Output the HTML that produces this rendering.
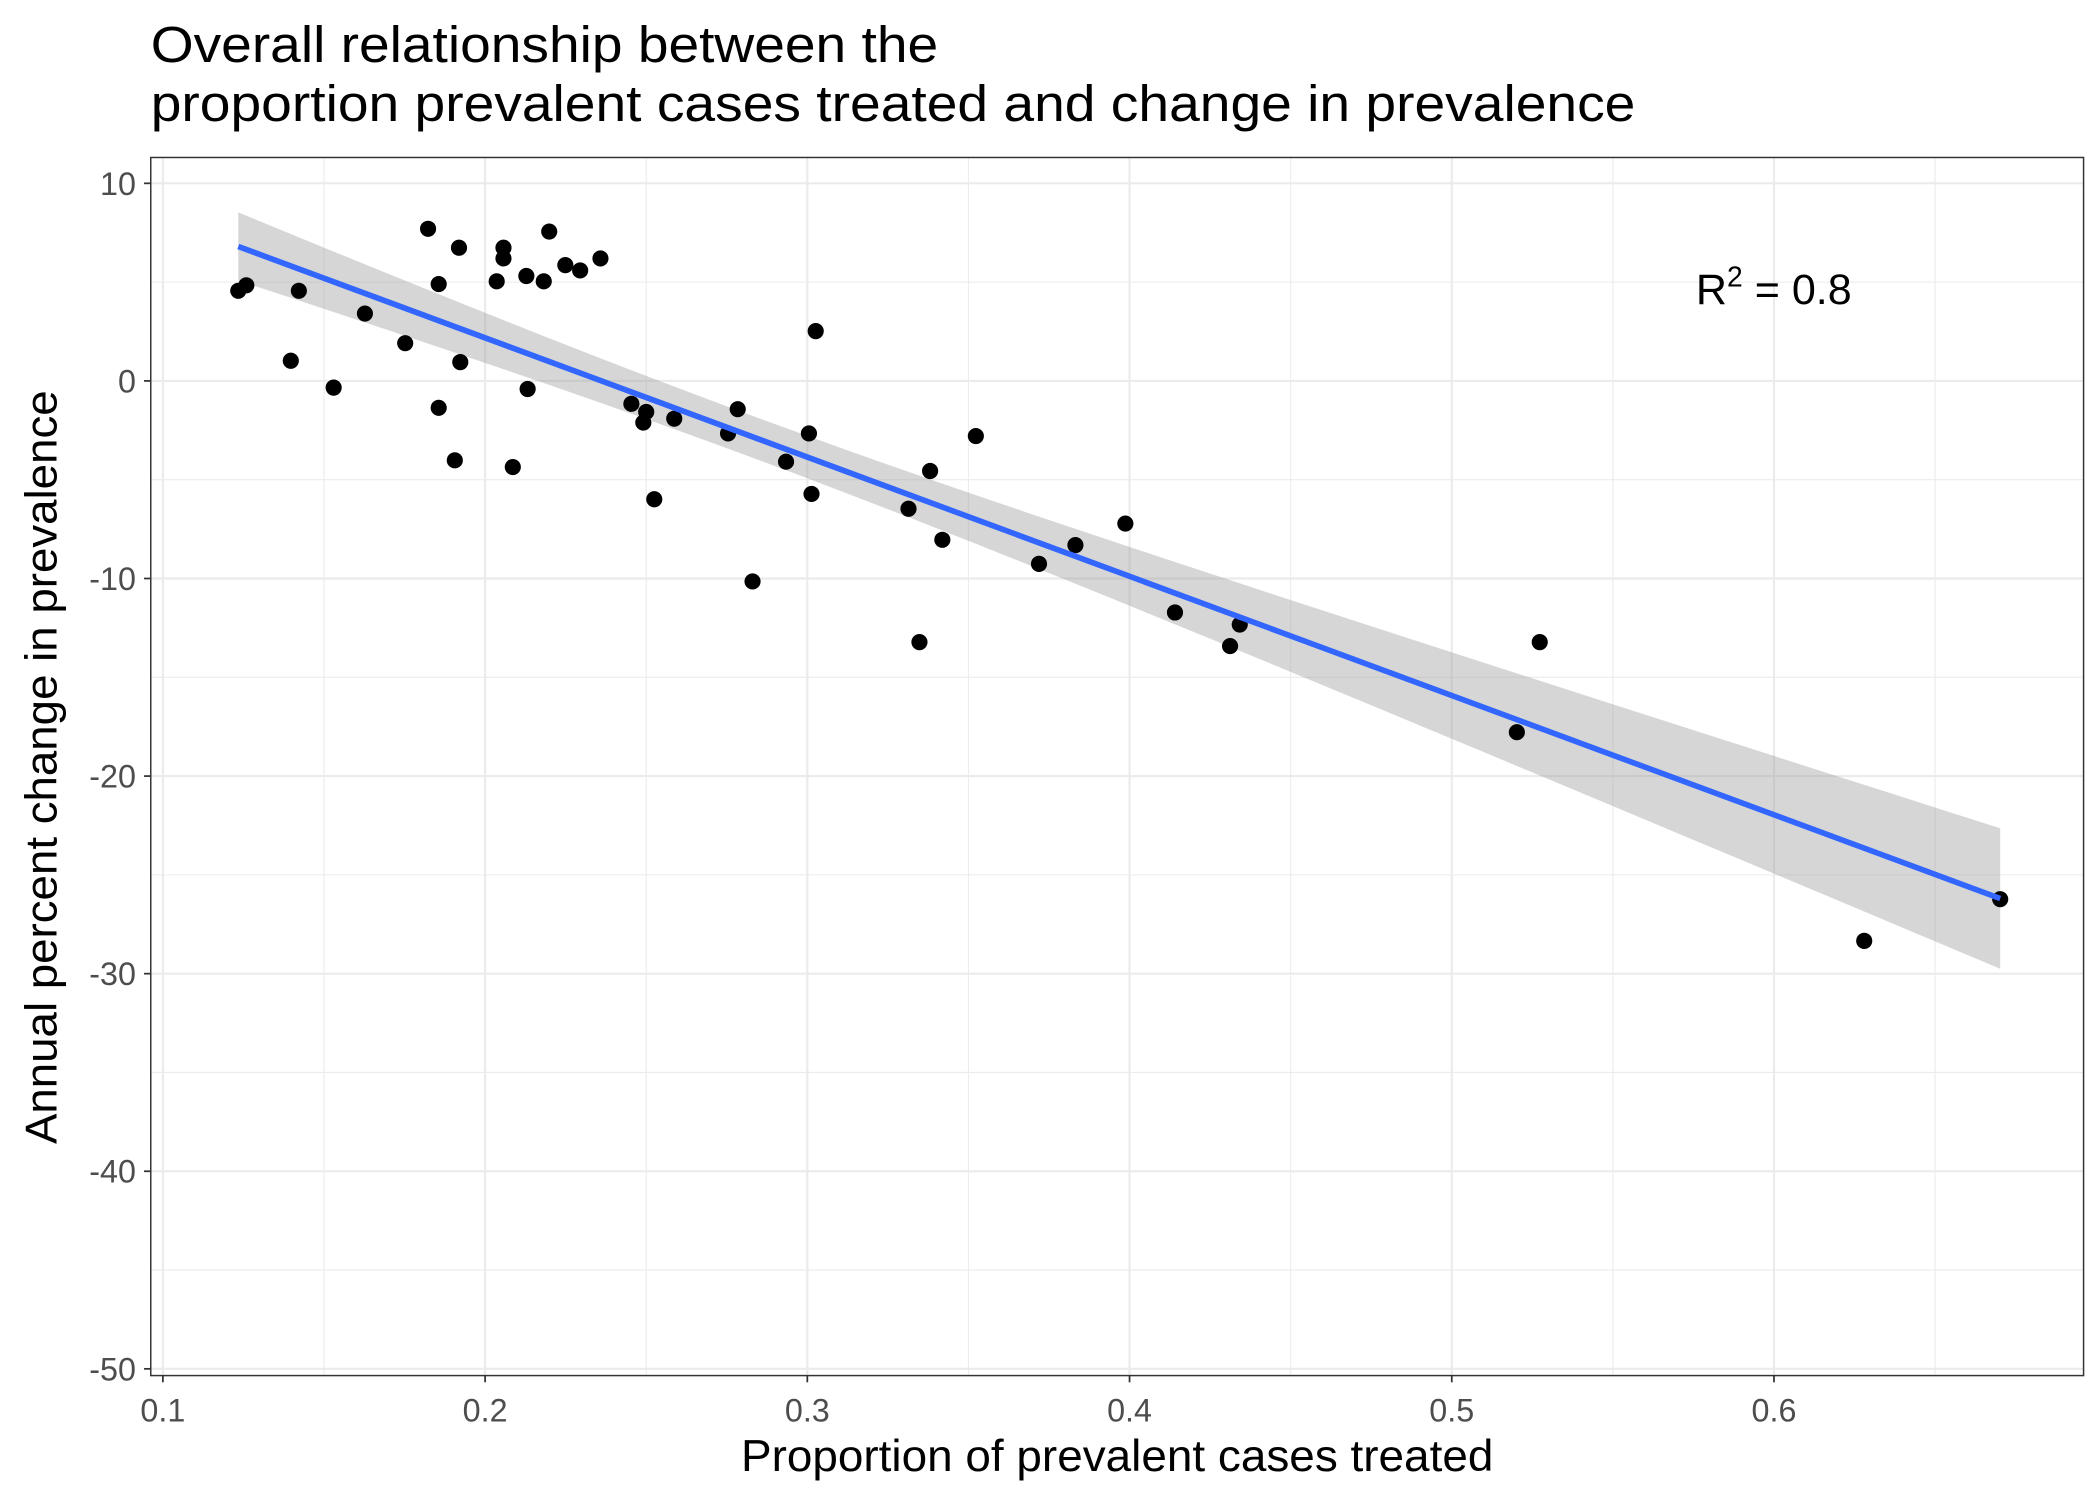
<!DOCTYPE html>
<html><head><meta charset="utf-8"><style>body{margin:0;background:#fff}svg{display:block}text{font-family:"Liberation Sans",sans-serif}</style></head>
<body>
<svg id="chart" width="2100" height="1499" viewBox="0 0 1560.2 1113.7" xmlns="http://www.w3.org/2000/svg">
<rect width="1560.2" height="1113.7" fill="#fff"/>
<text x="112" y="46" font-size="38" textLength="585" lengthAdjust="spacingAndGlyphs">Overall relationship between the</text>
<text x="112" y="90" font-size="38" textLength="1103" lengthAdjust="spacingAndGlyphs">proportion prevalent cases treated and change in prevalence</text>
<g id="grid"></g>
<g id="band"></g>
<g id="points"></g>
<g id="fit"></g>
<rect x="112" y="117" width="1436" height="905" fill="none" stroke="#333" stroke-width="1.1"/>
<g id="axes"></g>
<text x="1260" y="226" font-size="32">R<tspan dy="-13" font-size="21">2</tspan><tspan dy="13"> = 0.8</tspan></text>
<text x="830" y="1093" font-size="33" text-anchor="middle" textLength="559" lengthAdjust="spacingAndGlyphs">Proportion of prevalent cases treated</text>
<text transform="translate(42,570) rotate(-90)" font-size="33" text-anchor="middle" textLength="560" lengthAdjust="spacingAndGlyphs">Annual percent change in prevalence</text>
</svg>
<script>
const xVals=[0.1234,0.1259,0.1422,0.1397,0.1530,0.1627,0.1752,0.1823,0.1856,0.1856,0.1906,0.1919,0.1923,0.2036,0.2057,0.2057,0.2086,0.2128,0.2132,0.2182,0.2199,0.2249,0.2295,0.2358,0.2454,0.2491,0.2500,0.2525,0.2587,0.2754,0.2784,0.2830,0.2934,0.3005,0.3013,0.3026,0.3314,0.3348,0.3381,0.3419,0.3523,0.3719,0.3832,0.3987,0.4141,0.4312,0.4342,0.5202,0.5273,0.6280,0.6702];
const yVals=[4.56,4.84,4.56,1.02,-0.34,3.41,1.91,7.70,4.90,-1.36,-4.02,6.74,0.95,5.04,6.74,6.20,-4.36,5.31,-0.41,5.04,7.56,5.86,5.59,6.20,-1.16,-2.11,-1.57,-5.99,-1.91,-2.66,-1.43,-10.15,-4.09,-2.66,-5.72,2.52,-6.47,-13.22,-4.56,-8.04,-2.79,-9.26,-8.31,-7.22,-11.72,-13.42,-12.33,-17.78,-13.22,-28.34,-26.23];
const xTicks=[0.1,0.2,0.3,0.4,0.5,0.6];
const xTickLabels=["0.1","0.2","0.3","0.4","0.5","0.6"];
const xMinor=[0.15,0.25,0.35,0.45,0.55,0.65];
const yTicks=[10,0,-10,-20,-30,-40,-50];
const yTickLabels=["10","0","-10","-20","-30","-40","-50"];
const yMinor=[5,-5,-15,-25,-35,-45];
const fitIntercept=14.25, fitSlope=-60.35;
const bandC=1.12, bandD=75.7, bandMean=0.28;
const ns="http://www.w3.org/2000/svg";
const X=v=>121+(v-0.1)*2394;
const Y=v=>283-v*14.68;
function mk(tag,attrs,parent){const e=document.createElementNS(ns,tag);for(const k in attrs)e.setAttribute(k,attrs[k]);document.getElementById(parent).appendChild(e);return e;}
xMinor.forEach(v=>{const l=mk('line',{x1:X(v),x2:X(v),y1:117,y2:1022,stroke:'#ebebeb','stroke-width':0.8},'grid');

});
yMinor.forEach(v=>{const l=mk('line',{x1:112,x2:1548,y1:Y(v),y2:Y(v),stroke:'#ebebeb','stroke-width':0.8},'grid');

});
xTicks.forEach((v,i)=>{const l=mk('line',{x1:X(v),x2:X(v),y1:117,y2:1022,stroke:'#ebebeb','stroke-width':1.6},'grid');


const t=mk('line',{x1:X(v),x2:X(v),y1:1022,y2:1027,stroke:'#333','stroke-width':1.3},'axes');


const tx=mk('text',{x:X(v),y:1056,'font-size':24,fill:'#4d4d4d','text-anchor':'middle'},'axes');tx.textContent=xTickLabels[i];

});
yTicks.forEach((v,i)=>{const l=mk('line',{x1:112,x2:1548,y1:Y(v),y2:Y(v),stroke:'#ebebeb','stroke-width':1.6},'grid');


const t=mk('line',{x1:107,x2:112,y1:Y(v),y2:Y(v),stroke:'#333','stroke-width':1.3},'axes');


const tx=mk('text',{x:101,y:Y(v)+8.5,'font-size':24,fill:'#4d4d4d','text-anchor':'end'},'axes');tx.textContent=yTickLabels[i];

});
const x0=Math.min(...xVals),x1=Math.max(...xVals);
const up=[],lo=[];
for(let k=0;k<=40;k++){const x=x0+(x1-x0)*k/40;const f=fitIntercept+fitSlope*x;const h=Math.sqrt(bandC+bandD*(x-bandMean)**2);up.push(X(x)+','+Y(f+h));lo.unshift(X(x)+','+Y(f-h));}
const band=mk('polygon',{points:up.concat(lo).join(' '),fill:'#999',opacity:0.4},'band');


xVals.forEach((x,i)=>{const c=mk('circle',{cx:X(x),cy:Y(yVals[i]),r:6,fill:'#000'},'points');

});
const fl=mk('line',{x1:X(x0),y1:Y(fitIntercept+fitSlope*x0),x2:X(x1),y2:Y(fitIntercept+fitSlope*x1),stroke:'#3366ff','stroke-width':4.2},'fit');


</script>
</body></html>
